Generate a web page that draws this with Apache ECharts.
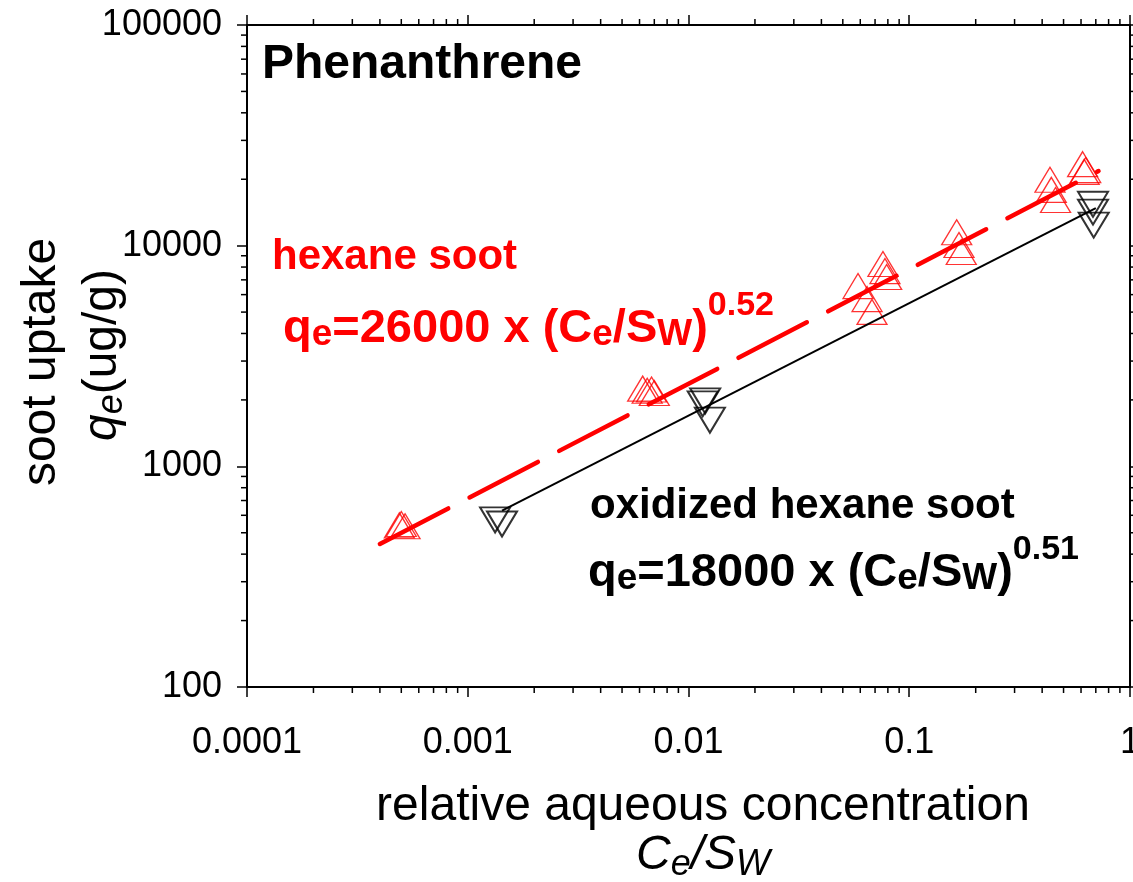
<!DOCTYPE html>
<html>
<head>
<meta charset="utf-8">
<script src="https://cdn.jsdelivr.net/npm/echarts@6/dist/echarts.min.js"></script>
<style>
html,body{margin:0;padding:0;background:#fff;}
#chart{width:1133px;height:882px;}
</style>
</head>
<body>
<div id="chart"></div>
<script>
// ---- data ----
var hexaneX = [0.00049, 0.00050, 0.00052, 0.0062, 0.0065, 0.0068, 0.0070, 0.0586, 0.0644, 0.0678, 0.0760, 0.0776, 0.0790, 0.164, 0.168, 0.172, 0.434, 0.44, 0.46, 0.61, 0.62, 0.63];
var hexaneY = [540, 548, 535, 2250, 2200, 2230, 2150, 6560, 5730, 5010, 8260, 7670, 7210, 11500, 10070, 9360, 19900, 17900, 16100, 23400, 21600, 22000];
var oxidX = [0.00133, 0.00143, 0.0116, 0.0119, 0.0125, 0.68, 0.68, 0.685];
var oxidY = [572, 548, 1920, 1980, 1620, 15400, 14200, 12400];
var hexaneFitX = [0.0004, 0.72];
var hexaneFitY = [445, 21800];
var oxidFitX = [0.00143, 0.70];
var oxidFitY = [630, 14800];
var xTickLabels = ['0.0001', '0.001', '0.01', '0.1', '1'];
var yTickLabels = ['100', '1000', '10000', '100000'];
var xMinor = [0.0002,0.0003,0.0004,0.0005,0.0006,0.0007,0.0008,0.0009,
              0.002,0.003,0.004,0.005,0.006,0.007,0.008,0.009,
              0.02,0.03,0.04,0.05,0.06,0.07,0.08,0.09,
              0.2,0.3,0.4,0.5,0.6,0.7,0.8,0.9];
var yMinor = [200,300,400,500,600,700,800,900,
              2000,3000,4000,5000,6000,7000,8000,9000,
              20000,30000,40000,50000,60000,70000,80000,90000];

function zip(a, b) { return a.map(function (v, i) { return [v, b[i]]; }); }

var FF = 'Liberation Sans, Arial, Helvetica, sans-serif';
var chart = echarts.init(document.getElementById('chart'), null, {renderer: 'canvas'});

function axisCommon() {
  return {
    axisLine: {show: true, onZero: false, lineStyle: {color: '#000', width: 2}},
    axisTick: {show: true, inside: false, length: 10, lineStyle: {color: '#000', width: 1.5}},
    splitLine: {show: false},
    minorTick: {show: false},
    minorSplitLine: {show: false}
  };
}

var xBottom = Object.assign({
  type: 'log', logBase: 10, min: 0.0001, max: 1, position: 'bottom', gridIndex: 0,
  axisLabel: {show: true, margin: 38, color: '#000', fontSize: 36, fontFamily: FF, hideOverlap: false,
    formatter: function (v) { return xTickLabels[Math.round(Math.log10(v)) + 4]; }}
}, axisCommon());
var xTop = Object.assign({
  type: 'log', logBase: 10, min: 0.0001, max: 1, position: 'top', gridIndex: 0,
  axisLabel: {show: false}
}, axisCommon());
var yLeft = Object.assign({
  type: 'log', logBase: 10, min: 100, max: 100000, position: 'left', gridIndex: 0,
  axisLabel: {show: true, margin: 25, color: '#000', fontSize: 36, fontFamily: FF, hideOverlap: false,
    formatter: function (v) { return yTickLabels[Math.round(Math.log10(v)) - 2]; }}
}, axisCommon());
var yRight = Object.assign({
  type: 'log', logBase: 10, min: 100, max: 100000, position: 'right', gridIndex: 0,
  axisLabel: {show: false}
}, axisCommon());

function minorX(params, api) {
  var v = api.value(0);
  var b = api.coord([v, 100]);
  var t = api.coord([v, 100000]);
  var st = {stroke: '#000', lineWidth: 1.5};
  return {type: 'group', children: [
    {type: 'line', shape: {x1: b[0], y1: b[1], x2: b[0], y2: b[1] + 6}, style: st},
    {type: 'line', shape: {x1: t[0], y1: t[1], x2: t[0], y2: t[1] - 6}, style: st}
  ]};
}
function minorY(params, api) {
  var v = api.value(1);
  var l = api.coord([0.0001, v]);
  var r = api.coord([1, v]);
  var st = {stroke: '#000', lineWidth: 1.5};
  return {type: 'group', children: [
    {type: 'line', shape: {x1: l[0], y1: l[1], x2: l[0] - 6, y2: l[1]}, style: st},
    {type: 'line', shape: {x1: r[0], y1: r[1], x2: r[0] + 6, y2: r[1]}, style: st}
  ]};
}

var eqRich = function (color) {
  return {
    m: {fontSize: 47, fontWeight: 'bold', fontFamily: FF, fill: color, lineHeight: 80, verticalAlign: 'middle'},
    s: {fontSize: 37, fontWeight: 'bold', fontFamily: FF, fill: color, lineHeight: 80, verticalAlign: 'middle', padding: [12, 0, 0, 0]},
    p: {fontSize: 34, fontWeight: 'bold', fontFamily: FF, fill: color, lineHeight: 80, verticalAlign: 'top'}
  };
};

var option = {
  animation: false,
  backgroundColor: '#fff',
  grid: {left: 247, right: 3, top: 25, bottom: 195, containLabel: false, outerBoundsMode: 'none'},
  xAxis: [xBottom, xTop],
  yAxis: [yLeft, yRight],
  series: [
    {type: 'custom', name: 'xminor', xAxisIndex: 0, yAxisIndex: 0, clip: false, silent: true,
      renderItem: minorX, data: xMinor.map(function (v) { return [v, 100]; }), z: 1},
    {type: 'custom', name: 'yminor', xAxisIndex: 0, yAxisIndex: 0, clip: false, silent: true,
      renderItem: minorY, data: yMinor.map(function (v) { return [0.0001, v]; }), z: 1},
    {type: 'scatter', name: 'hexane soot', xAxisIndex: 0, yAxisIndex: 0,
      data: zip(hexaneX, hexaneY), symbol: 'triangle', symbolSize: [30, 25],
      itemStyle: {color: 'rgba(0,0,0,0)', borderColor: '#ff0000', borderWidth: 1.3}, z: 2},
    {type: 'scatter', name: 'oxidized hexane soot', xAxisIndex: 0, yAxisIndex: 0,
      data: zip(oxidX, oxidY), symbol: 'triangle', symbolRotate: 180, symbolSize: [30, 25],
      itemStyle: {color: 'rgba(0,0,0,0)', borderColor: '#000', borderWidth: 2}, z: 2},
    {type: 'line', name: 'hexane fit', xAxisIndex: 0, yAxisIndex: 0,
      data: zip(hexaneFitX, hexaneFitY), symbol: 'none', z: 3,
      lineStyle: {color: '#ff0000', width: 4.5, type: [77, 24], cap: 'round'}},
    {type: 'line', name: 'oxidized fit', xAxisIndex: 0, yAxisIndex: 0,
      data: zip(oxidFitX, oxidFitY), symbol: 'none', z: 3,
      lineStyle: {color: '#000', width: 2}}
  ],
  graphic: [
    {type: 'text', x: 262, y: 65, z: 10, style: {text: 'Phenanthrene', font: 'bold 48px ' + FF, fill: '#000', align: 'left', verticalAlign: 'middle'}},
    {type: 'text', x: 272, y: 257, z: 10, style: {text: 'hexane soot', font: 'bold 42px ' + FF, fill: '#ff0000', align: 'left', verticalAlign: 'middle'}},
    {type: 'text', x: 283, y: 289, z: 10, style: {
      text: '{m|q}{s|e}{m|=26000 x (C}{s|e}{m|/S}{s|W}{m|)}{p|0.52}',
      rich: eqRich('#ff0000'), align: 'left', verticalAlign: 'top'}},
    {type: 'text', x: 590, y: 506, z: 10, style: {text: 'oxidized hexane soot', font: 'bold 42px ' + FF, fill: '#000', align: 'left', verticalAlign: 'middle'}},
    {type: 'text', x: 588, y: 533, z: 10, style: {
      text: '{m|q}{s|e}{m|=18000 x (C}{s|e}{m|/S}{s|W}{m|)}{p|0.51}',
      rich: eqRich('#000'), align: 'left', verticalAlign: 'top'}},
    {type: 'text', x: 42, y: 362, rotation: Math.PI / 2, z: 10, style: {text: 'soot uptake', font: '48px ' + FF, fill: '#000', align: 'center', verticalAlign: 'middle'}},
    {type: 'text', x: 103, y: 355, rotation: Math.PI / 2, z: 10, style: {
      text: '{q|q}{e|e}{n|(ug/g)}',
      rich: {
        q: {fontSize: 48, fontStyle: 'italic', fontFamily: FF, fill: '#000', lineHeight: 60, verticalAlign: 'middle'},
        e: {fontSize: 36, fontStyle: 'italic', fontFamily: FF, fill: '#000', lineHeight: 60, verticalAlign: 'middle', padding: [18, 0, 0, 0]},
        n: {fontSize: 48, fontFamily: FF, fill: '#000', lineHeight: 60, verticalAlign: 'middle'}
      }, align: 'center', verticalAlign: 'middle'}},
    {type: 'text', x: 703, y: 807, z: 10, style: {text: 'relative aqueous concentration', font: '48px ' + FF, fill: '#000', align: 'center', verticalAlign: 'middle'}},
    {type: 'text', x: 703, y: 856, z: 10, style: {
      text: '{c|C}{e|e}{c|/S}{e|W}',
      rich: {
        c: {fontSize: 48, fontStyle: 'italic', fontFamily: FF, fill: '#000', lineHeight: 60, verticalAlign: 'middle'},
        e: {fontSize: 36, fontStyle: 'italic', fontFamily: FF, fill: '#000', lineHeight: 60, verticalAlign: 'middle', padding: [18, 0, 0, 0]}
      }, align: 'center', verticalAlign: 'middle'}}
  ]
};
chart.setOption(option);
</script>
</body>
</html>
